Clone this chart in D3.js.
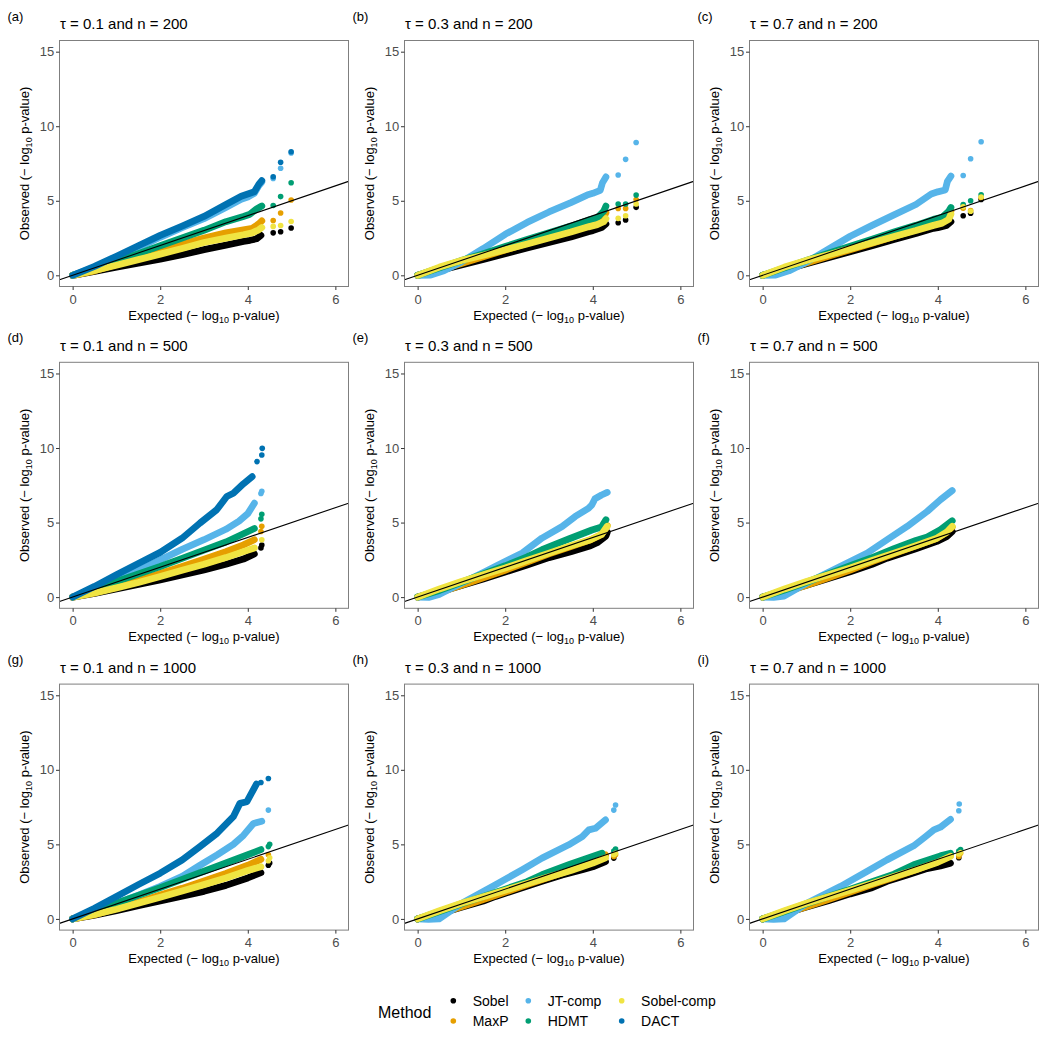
<!DOCTYPE html>
<html><head><meta charset="utf-8">
<script src="https://cdn.jsdelivr.net/npm/d3@7"></script>
<style>body{margin:0;background:#fff}text{font-family:"Liberation Sans",Arial,Helvetica,sans-serif}</style>
</head><body><svg id="chart" width="1050" height="1038"></svg>
<script>
// ---------- data ----------
const methods = ["Sobel", "MaxP", "JT-comp", "HDMT", "Sobel-comp", "DACT"];
const methodColors = ["#000000", "#E69F00", "#56B4E9", "#009E73", "#F0E442", "#0072B2"];
const panelTags = ["(a)", "(b)", "(c)", "(d)", "(e)", "(f)", "(g)", "(h)", "(i)"];
const tauValues = ["0.1", "0.3", "0.7"];
const nValues = ["200", "500", "1000"];
const xTicks = [0, 2, 4, 6];
const yTicks = [0, 5, 10, 15];
const refIntercept = 0, refSlope = 1;

// dense part of each QQ curve, per panel a..i: [expected, observed]
const sobelBand = [
  [[0,0],[0.5,0.27],[1,0.55],[1.5,0.82],[2,1.08],[2.5,1.38],[3,1.72],[3.5,2.02],[3.9,2.28],[4.05,2.35],[4.2,2.45],[4.3,2.68]],
  [[0,0],[0.5,0.33],[1,0.7],[1.5,1.07],[2,1.45],[2.5,1.83],[3,2.2],[3.5,2.57],[3.9,2.93],[4.0,3.0],[4.2,3.2],[4.3,3.45]],
  [[0,0],[0.5,0.38],[1,0.78],[1.5,1.18],[2,1.58],[2.5,1.98],[3,2.4],[3.5,2.8],[3.9,3.15],[4.0,3.2],[4.2,3.35],[4.3,3.6]],
  [[0,0],[0.5,0.25],[1,0.55],[1.5,0.85],[2,1.15],[2.5,1.48],[3,1.82],[3.5,2.2],[3.9,2.55],[4.15,2.9]],
  [[0,0],[0.5,0.35],[1,0.78],[1.5,1.22],[2,1.68],[2.5,2.15],[3,2.65],[3.5,3.05],[3.95,3.45],[4.1,3.65],[4.3,4.1],[4.33,4.35]],
  [[0,0],[0.5,0.37],[1,0.8],[1.5,1.25],[2,1.7],[2.5,2.2],[2.84,2.61],[3.5,3.25],[3.98,3.74],[4.2,4.05],[4.33,4.4]],
  [[0,0],[0.5,0.25],[1,0.55],[1.5,0.88],[2,1.2],[2.5,1.52],[3,1.85],[3.5,2.25],[4.0,2.75],[4.3,3.1]],
  [[0,0],[0.5,0.35],[1,0.78],[1.5,1.2],[1.78,1.51],[2.3,2.0],[2.84,2.52],[3.3,2.95],[3.76,3.3],[4.0,3.5],[4.29,3.85]],
  [[0,0],[0.5,0.37],[1,0.8],[1.5,1.22],[2,1.68],[2.5,2.1],[2.84,2.52],[3.3,2.95],[3.72,3.35],[4.06,3.56],[4.29,3.74]]
];
const sobelTail = [
  [[4.58,2.85],[4.75,2.92],[4.99,3.17]],
  [[4.58,3.53],[4.75,3.71],[4.99,4.56]],
  [[4.58,4.0],[4.75,4.16],[4.99,5.09]],
  [[4.3,3.3],[4.32,3.5]],
  [],
  [],
  [[4.47,3.6],[4.5,3.75]],
  [[4.48,4.08]],
  [[4.48,4.1]]
];
const maxpBand = [
  [[0,0],[0.5,0.3],[1,0.72],[1.5,1.15],[2,1.62],[2.5,2.08],[3,2.5],[3.5,2.85],[3.9,3.05],[4.1,3.15],[4.25,3.45],[4.32,3.65]],
  [[0,0],[0.5,0.35],[1,0.8],[1.5,1.25],[2,1.7],[2.5,2.15],[3,2.6],[3.5,3.05],[3.9,3.45],[4.1,3.6],[4.25,3.9],[4.3,4.2]],
  [[0,0],[0.5,0.38],[1,0.82],[1.5,1.28],[2,1.72],[2.5,2.15],[3,2.6],[3.5,3.05],[3.9,3.45],[4.1,3.6],[4.25,3.95],[4.3,4.3]],
  [[0,0],[0.5,0.28],[1,0.68],[1.5,1.12],[2,1.58],[2.5,2.05],[3,2.55],[3.5,3.05],[3.9,3.5],[4.15,3.85]],
  [[0,0],[0.5,0.3],[1,0.8],[1.5,1.3],[2,1.8],[2.5,2.35],[3,2.9],[3.5,3.4],[3.95,3.85],[4.2,4.2],[4.33,4.8]],
  [[0,0],[0.5,0.3],[1,0.8],[1.5,1.3],[2,1.82],[2.5,2.38],[3,2.92],[3.5,3.45],[3.98,3.95],[4.2,4.35],[4.33,4.7]],
  [[0,0],[0.5,0.28],[1,0.7],[1.5,1.12],[2,1.6],[2.5,2.05],[3,2.55],[3.5,3.05],[4.0,3.6],[4.3,4.0]],
  [[0,0],[0.5,0.35],[1,0.82],[1.5,1.3],[2,1.8],[2.5,2.3],[3,2.8],[3.5,3.3],[4.0,3.85],[4.29,4.3]],
  [[0,0],[0.5,0.35],[1,0.82],[1.5,1.3],[2,1.8],[2.5,2.3],[3,2.8],[3.5,3.3],[4.0,3.85],[4.29,4.25]]
];
const maxpTail = [
  [[4.58,3.68],[4.75,4.18],[4.99,5.05]],
  [[4.58,4.49],[4.75,4.49],[4.99,5.09]],
  [[4.58,4.5],[4.75,4.35],[4.99,5.2]],
  [[4.3,4.4],[4.32,4.75]],
  [],
  [],
  [[4.47,4.3]],
  [[4.48,4.19],[4.52,4.3]],
  [[4.48,4.19],[4.52,4.41]]
];
const jtBand = [
  [[0,0],[0.5,0.55],[1,1.2],[1.5,1.85],[2,2.55],[2.5,3.2],[3,3.8],[3.5,4.55],[3.85,5.1],[4.0,5.25],[4.15,5.5],[4.25,6.0],[4.32,6.25]],
  [[0,0],[0.3,0.02],[0.6,0.3],[1,0.9],[1.5,1.8],[2,2.75],[2.5,3.55],[3,4.25],[3.5,4.88],[3.87,5.38],[4.0,5.5],[4.17,5.7],[4.22,6.2],[4.3,6.6]],
  [[0,0],[0.3,0.02],[0.6,0.3],[1,0.88],[1.5,1.75],[2,2.62],[2.5,3.35],[3,4.05],[3.5,4.75],[3.85,5.45],[4.0,5.6],[4.17,5.72],[4.22,6.3],[4.3,6.65]],
  [[0,0],[0.5,0.45],[1,1.1],[1.5,1.8],[2,2.5],[2.5,3.2],[3,3.85],[3.5,4.55],[3.8,5.1],[4.0,5.6],[4.15,6.3]],
  [[0,0],[0.25,-0.02],[0.49,0.18],[1.02,0.96],[1.5,1.65],[1.78,2.07],[2.39,2.96],[2.84,3.96],[3.3,4.74],[3.6,5.41],[3.9,5.95],[3.98,6.19],[4.05,6.6],[4.2,6.85],[4.33,7.02]],
  [[0,0],[0.25,-0.02],[0.49,0.07],[1.02,0.96],[1.78,2.07],[2.39,2.96],[2.84,3.85],[3.3,4.74],[3.76,5.75],[4.06,6.53],[4.33,7.15]],
  [[0,0],[0.5,0.45],[1,1.05],[1.5,1.6],[2,2.18],[2.5,2.85],[2.91,3.6],[3.3,4.3],[3.67,5.0],[3.9,5.6],[4.13,6.4],[4.32,6.55]],
  [[0,0],[0.25,-0.03],[0.49,0.0],[1.02,1.07],[1.78,2.29],[2.39,3.3],[2.84,4.08],[3.45,4.97],[3.76,5.52],[3.91,5.97],[4.06,6.08],[4.29,6.64]],
  [[0,0],[0.25,-0.03],[0.49,0.0],[1.02,1.07],[1.78,2.18],[2.39,3.2],[2.84,3.96],[3.45,4.9],[3.72,5.52],[3.91,5.97],[4.06,6.15],[4.29,6.68]]
];
const jtTail = [
  [[4.58,6.5],[4.75,7.18],[4.99,8.2]],
  [[4.58,6.73],[4.75,7.78],[4.99,8.91]],
  [[4.58,6.7],[4.75,7.82],[4.99,8.96]],
  [[4.3,6.95],[4.32,7.1]],
  [],
  [],
  [[4.47,7.3]],
  [[4.48,7.3],[4.52,7.64]],
  [[4.48,7.26],[4.49,7.71]]
];
const hdmtBand = [
  [[0,0],[0.5,0.45],[1,0.95],[1.5,1.45],[2,1.98],[2.5,2.5],[3,3.02],[3.5,3.6],[3.9,3.95],[4.05,4.1],[4.2,4.45],[4.32,4.65]],
  [[0,0],[0.5,0.5],[1,1.0],[1.5,1.45],[2,1.93],[2.5,2.4],[3,2.85],[3.5,3.3],[3.9,3.7],[4.1,3.85],[4.25,4.3],[4.3,4.64]],
  [[0,0],[0.5,0.5],[1,1.0],[1.5,1.48],[2,1.95],[2.5,2.42],[3,2.9],[3.5,3.35],[3.9,3.75],[4.1,3.9],[4.25,4.3],[4.3,4.55]],
  [[0,0],[0.5,0.5],[1,1.05],[1.5,1.55],[2,2.05],[2.5,2.6],[3,3.15],[3.5,3.7],[3.9,4.25],[4.15,4.6]],
  [[0,0],[0.5,0.45],[1,1.0],[1.5,1.55],[2,2.1],[2.5,2.7],[2.84,3.18],[3.45,3.9],[3.98,4.5],[4.2,4.7],[4.3,5.19]],
  [[0,0],[0.5,0.47],[1,1.0],[1.5,1.55],[2,2.1],[2.5,2.65],[3,3.25],[3.5,3.8],[3.76,4.03],[4.06,4.52],[4.33,5.12]],
  [[0,0],[0.5,0.5],[1,1.05],[1.5,1.58],[2,2.1],[2.5,2.65],[3,3.2],[3.5,3.75],[4.0,4.3],[4.3,4.65]],
  [[0,0],[0.5,0.5],[1,1.02],[1.5,1.5],[2,2.0],[2.5,2.5],[2.84,2.96],[3.45,3.63],[4.21,4.41]],
  [[0,0],[0.5,0.5],[1,1.02],[1.5,1.5],[2,2.0],[2.5,2.5],[3,3.0],[3.45,3.63],[4.06,4.23],[4.29,4.41]]
];
const hdmtTail = [
  [[4.58,4.68],[4.75,5.28],[4.99,6.21]],
  [[4.58,4.78],[4.75,4.78],[4.99,5.38]],
  [[4.58,4.75],[4.75,5.0],[4.99,5.4]],
  [[4.3,5.25],[4.32,5.55]],
  [],
  [],
  [[4.47,4.85],[4.5,5.0]],
  [[4.48,4.55],[4.52,4.68]],
  [[4.48,4.55],[4.52,4.65]]
];
const sobelCompBand = [
  [[0,0],[0.5,0.32],[1,0.68],[1.5,1.05],[2,1.42],[2.5,1.8],[3,2.2],[3.5,2.5],[3.9,2.72],[4.1,2.85],[4.25,3.05],[4.32,3.2]],
  [[0,0],[0.5,0.55],[1,1.0],[1.5,1.35],[2,1.72],[2.5,2.1],[3,2.5],[3.5,2.9],[3.9,3.25],[4.1,3.4],[4.25,3.6],[4.3,3.8]],
  [[0,0],[0.5,0.55],[1,1.0],[1.5,1.38],[2,1.78],[2.5,2.18],[3,2.6],[3.5,3.0],[3.9,3.35],[4.1,3.5],[4.25,3.75],[4.3,4.1]],
  [[0,0],[0.5,0.28],[1,0.62],[1.5,0.98],[2,1.38],[2.5,1.8],[3,2.2],[3.5,2.65],[3.9,3.05],[4.15,3.3]],
  [[0,0],[0.5,0.55],[1,1.05],[1.5,1.5],[2,1.95],[2.5,2.45],[3,2.95],[3.5,3.45],[3.95,3.85],[4.2,4.2],[4.33,4.75]],
  [[0,0],[0.5,0.55],[1,1.05],[1.5,1.5],[2,1.95],[2.5,2.45],[3,2.95],[3.5,3.45],[3.98,3.95],[4.2,4.35],[4.33,4.74]],
  [[0,0],[0.5,0.3],[1,0.65],[1.5,1.05],[2,1.45],[2.5,1.88],[3,2.3],[3.5,2.75],[4.0,3.25],[4.3,3.5]],
  [[0,0],[0.5,0.55],[1,1.05],[1.5,1.48],[2,1.92],[2.5,2.38],[3,2.82],[3.5,3.25],[4.0,3.75],[4.29,4.1]],
  [[0,0],[0.5,0.55],[1,1.05],[1.5,1.48],[2,1.92],[2.5,2.38],[3,2.85],[3.5,3.3],[4.0,3.8],[4.29,4.2]]
];
const sobelCompTail = [
  [[4.58,3.28],[4.75,3.34],[4.99,3.61]],
  [[4.58,3.82],[4.75,4.0],[4.99,4.78]],
  [[4.58,4.6],[4.75,4.3],[4.99,5.25]],
  [[4.32,3.85]],
  [],
  [],
  [[4.47,3.9],[4.5,4.1]],
  [[4.48,4.3],[4.52,4.4]],
  [[4.48,4.35],[4.52,4.45]]
];
const dactBand = [
  [[0,0],[0.5,0.6],[1,1.28],[1.5,1.98],[2,2.68],[2.5,3.3],[3,3.95],[3.5,4.75],[3.85,5.3],[4.0,5.45],[4.15,5.6],[4.25,6.1],[4.32,6.35]],
  [], [],
  [[0,0],[0.5,0.72],[1,1.5],[1.5,2.25],[2,3.0],[2.5,3.95],[2.91,4.97],[3.29,5.86],[3.52,6.75],[3.67,6.97],[3.9,7.6],[4.1,8.08]],
  [], [],
  [[0,0],[0.5,0.72],[1,1.5],[1.5,2.3],[2,3.07],[2.5,3.95],[2.91,4.86],[3.3,5.75],[3.67,6.86],[3.82,7.75],[3.98,7.86],[4.2,9.05]],
  [], []
];
const dactTail = [
  [[4.58,6.61],[4.75,7.58],[4.99,8.29]],
  [], [],
  [[4.21,9.09],[4.32,9.53],[4.33,9.98]],
  [], [],
  [[4.3,9.15],[4.47,9.42]],
  [], []
];
const bands = [sobelBand, maxpBand, jtBand, hdmtBand, sobelCompBand, dactBand];
const tails = [sobelTail, maxpTail, jtTail, hdmtTail, sobelCompTail, dactTail];

// ---------- layout ----------
const svg = d3.select("#chart");
const W = 289, H = 246;
const colX = [59.5, 404.5, 749.5];
const rowY = [40.5, 362.3, 684.1];
const x = d3.scaleLinear().domain([-0.3, 6.3]).range([0, W]);
const y = d3.scaleLinear().domain([-0.75, 15.75]).range([H, 0]);
const line = d3.line().x(d => x(d[0])).y(d => y(d[1]));

for (let r = 0; r < 3; r++) {
  for (let c = 0; c < 3; c++) {
    const p = r * 3 + c;
    const g = svg.append("g").attr("transform", `translate(${colX[c]},${rowY[r]})`);
    const cid = "clip" + p;
    g.append("clipPath").attr("id", cid).append("rect").attr("width", W).attr("height", H);
    const plot = g.append("g").attr("clip-path", `url(#${cid})`);

    methods.forEach((m, k) => {
      const band = bands[k][p];
      if (band.length) {
        plot.append("path").attr("d", line(band))
          .attr("fill", "none").attr("stroke", methodColors[k])
          .attr("stroke-width", 6.8).attr("stroke-linecap", "round").attr("stroke-linejoin", "round");
      }
      plot.selectAll(null).data(tails[k][p]).enter().append("circle")
        .attr("cx", d => x(d[0])).attr("cy", d => y(d[1])).attr("r", 2.8)
        .attr("fill", methodColors[k]);
    });

    const xd = x.domain();
    plot.append("line")
      .attr("x1", x(xd[0])).attr("y1", y(refIntercept + refSlope * xd[0]))
      .attr("x2", x(xd[1])).attr("y2", y(refIntercept + refSlope * xd[1]))
      .attr("stroke", "#000").attr("stroke-width", 1.1);

    g.append("rect").attr("width", W).attr("height", H)
      .attr("fill", "none").attr("stroke", "#7f7f7f").attr("stroke-width", 1);

    const ax = g.append("g").attr("transform", `translate(0,${H})`)
      .call(d3.axisBottom(x).tickValues(xTicks).tickSize(3.5).tickPadding(4.3).tickFormat(d3.format("d")));
    const ay = g.append("g")
      .call(d3.axisLeft(y).tickValues(yTicks).tickSize(3.5).tickPadding(1.8).tickFormat(d3.format("d")));
    [ax, ay].forEach(a => {
      a.select(".domain").remove();
      a.selectAll(".tick line").attr("stroke", "#333");
      a.selectAll(".tick text").attr("fill", "#4d4d4d").style("font-size", "13px")
        .style("font-family", '"Liberation Sans",Arial,sans-serif');
    });

    // x title
    const xt = g.append("text").attr("x", W / 2).attr("y", H + 33)
      .attr("text-anchor", "middle").style("font-size", "13px").attr("fill", "#000");
    xt.append("tspan").text("Expected (\u2212 log");
    xt.append("tspan").text("10").style("font-size", "9px").attr("dy", 3);
    xt.append("tspan").text(" p-value)").attr("dy", -3);

    // y title
    const yt = g.append("text").attr("transform", `translate(-30.5,${H / 2}) rotate(-90)`)
      .attr("text-anchor", "middle").style("font-size", "13px").attr("fill", "#000");
    yt.append("tspan").text("Observed (\u2212 log");
    yt.append("tspan").text("10").style("font-size", "9px").attr("dy", 3);
    yt.append("tspan").text(" p-value)").attr("dy", -3);

    // panel title
    g.append("text").attr("x", 0.5).attr("y", -11.5)
      .style("font-size", "15px").attr("fill", "#000")
      .text(`\u03c4 = ${tauValues[c]} and n = ${nValues[r]}`);
    // tag
    svg.append("text").attr("x", colX[c] - 52).attr("y", rowY[r] - 20)
      .style("font-size", "13px").attr("fill", "#000").text(panelTags[p]);
  }
}

// ---------- legend ----------
const leg = svg.append("g");
leg.append("text").attr("x", 378).attr("y", 1017.5).style("font-size", "16px").text("Method");
const legX = [453.3, 528.3, 621.7], legY = [1000.7, 1021];
methods.forEach((m, k) => {
  const cx = legX[Math.floor(k / 2)], cy = legY[k % 2];
  leg.append("circle").attr("cx", cx).attr("cy", cy).attr("r", 2.8).attr("fill", methodColors[k]);
  leg.append("text").attr("x", cx + 19.4).attr("y", cy + 5).style("font-size", "14px").text(m);
});
</script></body></html>
